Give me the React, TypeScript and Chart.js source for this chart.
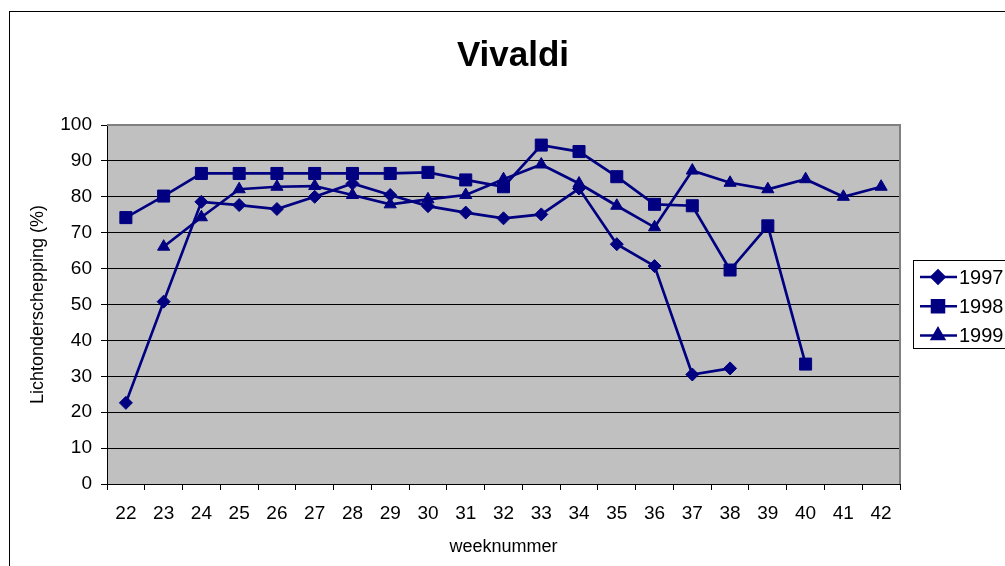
import React, { useEffect, useRef } from 'react';
import { Chart, registerables } from 'chart.js';
import { drawPoint } from 'chart.js/helpers';

Chart.register(...registerables);

const weeks = ['22','23','24','25','26','27','28','29','30','31','32','33','34','35','36','37','38','39','40','41','42'];
const seriesNames = ['1997', '1998', '1999'];
const values1997 = [22.6, 50.8, 78.6, 77.7, 76.6, 80.0, 83.7, 80.5, 77.4, 75.6, 74.0, 75.1, 82.3, 66.8, 60.7, 30.5, 32.2, null, null, null, null];
const values1998 = [74.2, 80.2, 86.5, 86.5, 86.5, 86.5, 86.5, 86.5, 86.8, 84.7, 82.8, 94.4, 92.6, 85.6, 77.9, 77.5, 59.6, 71.9, 33.4, null, null];
const values1999 = [null, 66.1, 74.3, 82.1, 82.8, 83.0, 80.5, 77.9, 79.3, 80.5, 84.9, 89.0, 83.7, 77.5, 71.5, 87.3, 83.9, 82.1, 84.9, 80.0, 82.8];
const titleText = 'Vivaldi';
const xTitle = 'weeknummer';
const yTitle = 'Lichtonderschepping (%)';

const FONT = '"Liberation Sans", Arial, Helvetica, sans-serif';
const NAVY = '#000080';
const styles = ['rectRot', 'rect', 'triangle'];
const radii = [6.5, 8.5, 7];

const bgPlugin = {
  id: 'bgPlugin',
  beforeDraw(chart: any) {
    const { ctx, chartArea: a } = chart;
    ctx.save();
    ctx.fillStyle = '#ffffff';
    ctx.fillRect(0, 0, chart.width, chart.height);
    ctx.fillStyle = '#c0c0c0';
    ctx.fillRect(a.left, a.top, a.right - a.left, a.bottom - a.top);
    ctx.strokeStyle = '#000000';
    ctx.lineWidth = 1;
    ctx.strokeRect(9.5, 11.5, 1200, 1200);
    ctx.restore();
  },
  beforeDatasetsDraw(chart: any) {
    const { ctx, chartArea: a } = chart;
    ctx.save();
    ctx.strokeStyle = '#808080';
    ctx.lineWidth = 2;
    ctx.beginPath();
    ctx.moveTo(a.left, a.top);
    ctx.lineTo(a.right, a.top);
    ctx.lineTo(a.right, a.bottom);
    ctx.stroke();
    ctx.restore();
  },
};

const legendPlugin = {
  id: 'boxLegend',
  afterDraw(chart: any) {
    const { ctx } = chart;
    ctx.save();
    const bx = 913.5, by = 260.5, bw = 200, bh = 88;
    ctx.fillStyle = '#ffffff';
    ctx.fillRect(bx, by, bw, bh);
    ctx.strokeStyle = '#000000';
    ctx.lineWidth = 1;
    ctx.strokeRect(bx, by, bw, bh);
    chart.data.datasets.forEach((ds: any, i: number) => {
      const y = 277 + i * 29.3;
      ctx.strokeStyle = ds.borderColor;
      ctx.lineWidth = 2.5;
      ctx.beginPath();
      ctx.moveTo(920, y);
      ctx.lineTo(957, y);
      ctx.stroke();
      ctx.fillStyle = ds.pointBackgroundColor;
      ctx.strokeStyle = ds.pointBorderColor;
      drawPoint(ctx, { pointStyle: ds.pointStyle, radius: ds.pointRadius, rotation: 0, borderWidth: 1 }, 938, y);
      ctx.fillStyle = '#000000';
      ctx.font = `20px ${FONT}`;
      ctx.textBaseline = 'middle';
      ctx.textAlign = 'left';
      ctx.fillText(ds.label, 959, y + 1);
    });
    ctx.restore();
  },
};

export default function App() {
  const ref = useRef<HTMLCanvasElement>(null);
  useEffect(() => {
    document.body.style.margin = '0';
    const all = [values1997, values1998, values1999];
    const chart = new Chart(ref.current as HTMLCanvasElement, {
      type: 'line',
      data: {
        labels: weeks,
        datasets: seriesNames.map((name, i) => ({
          label: name,
          data: all[i],
          borderColor: NAVY,
          backgroundColor: NAVY,
          pointBackgroundColor: NAVY,
          pointBorderColor: NAVY,
          pointBorderWidth: 1,
          borderWidth: 2.7,
          pointStyle: styles[i] as any,
          pointRadius: radii[i],
          tension: 0,
          spanGaps: false,
          fill: false,
        })),
      },
      options: {
        responsive: false,
        animation: false,
        events: [],
        layout: { padding: { left: 21, right: 0, top: 0, bottom: 6 } },
        plugins: {
          legend: { display: false },
          tooltip: { enabled: false },
          title: {
            display: true,
            text: titleText,
            color: '#000000',
            font: { family: FONT, size: 35, weight: 'bold', lineHeight: 1.2 },
            padding: { top: 35, bottom: 48 },
          },
        },
        scales: {
          x: {
            offset: true,
            afterFit(scale: any) { scale.height = 76; },
            grid: {
              offset: true,
              drawOnChartArea: false,
              drawTicks: true,
              tickLength: 6,
              color: '#000000',
            },
            border: { display: true, color: '#000000', width: 1 },
            ticks: {
              color: '#000000',
              padding: 12,
              maxRotation: 0,
              autoSkip: false,
              font: { family: FONT, size: 19 },
            },
            title: {
              display: true,
              text: xTitle,
              color: '#000000',
              font: { family: FONT, size: 18 },
              padding: { top: 4, bottom: 2 },
            },
          },
          y: {
            min: 0,
            max: 100,
            afterFit(scale: any) { scale.width = 86; },
            grid: {
              drawOnChartArea: true,
              drawTicks: true,
              tickLength: 6,
              color: '#000000',
              lineWidth: 1,
            },
            border: { display: true, color: '#000000', width: 1 },
            ticks: {
              stepSize: 10,
              color: '#000000',
              padding: 9,
              font: { family: FONT, size: 19 },
            },
            title: {
              display: true,
              text: yTitle,
              color: '#000000',
              font: { family: FONT, size: 18 },
              padding: { top: 6, bottom: 4 },
            },
          },
          rightSpace: {
            type: 'linear',
            position: 'right',
            display: true,
            afterFit(scale: any) { scale.width = 105; },
            grid: { display: false, drawTicks: false },
            border: { display: false },
            ticks: { display: false },
          },
        },
      },
      plugins: [bgPlugin, legendPlugin],
    });
    return () => chart.destroy();
  }, []);
  return (
    <div style={{ position: 'absolute', left: 0, top: 0, width: 1005, height: 566 }}>
      <canvas ref={ref} width={1005} height={566} style={{ display: 'block', width: 1005, height: 566 }} />
    </div>
  );
}
